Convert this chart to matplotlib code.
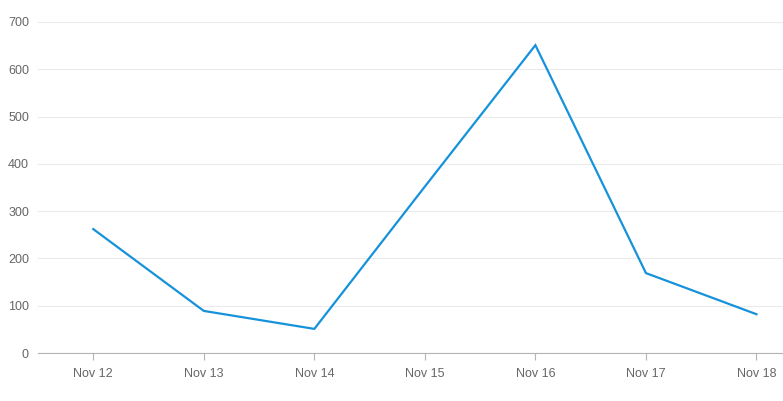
import matplotlib.pyplot as plt

days = ['Nov 12', 'Nov 13', 'Nov 14', 'Nov 15', 'Nov 16', 'Nov 17', 'Nov 18']
counts = [262, 89, 51, 352, 651, 169, 82]
yticks = [0, 100, 200, 300, 400, 500, 600, 700]

plt.rcParams['font.family'] = ['Liberation Sans', 'DejaVu Sans']

fig = plt.figure(figsize=(7.83, 4.01), dpi=100)
ax = fig.add_axes([38 / 783, 1 - 353 / 401, 1 - 38 / 783, (353 - 22) / 401])

x = list(range(len(days)))
ax.plot(x, counts, color='#1692db', lw=1.6, solid_joinstyle='miter')

ax.set_xlim(-0.5, 6.24)
ax.set_ylim(0, 700)
ax.set_xticks(x)
ax.set_xticklabels(days)
ax.set_yticks(yticks)

ax.grid(axis='y', color='#ebebeb', lw=0.8)
ax.set_axisbelow(True)
for s in ['top', 'right', 'left']:
    ax.spines[s].set_visible(False)
ax.spines['bottom'].set_color('#b4b4b4')
ax.tick_params(axis='x', colors='#b4b4b4', labelcolor='#666666', length=5, pad=5.5, labelsize=9)
ax.tick_params(axis='y', length=0, labelcolor='#666666', pad=6.5, labelsize=9)

fig.savefig('out.png', dpi=100)
